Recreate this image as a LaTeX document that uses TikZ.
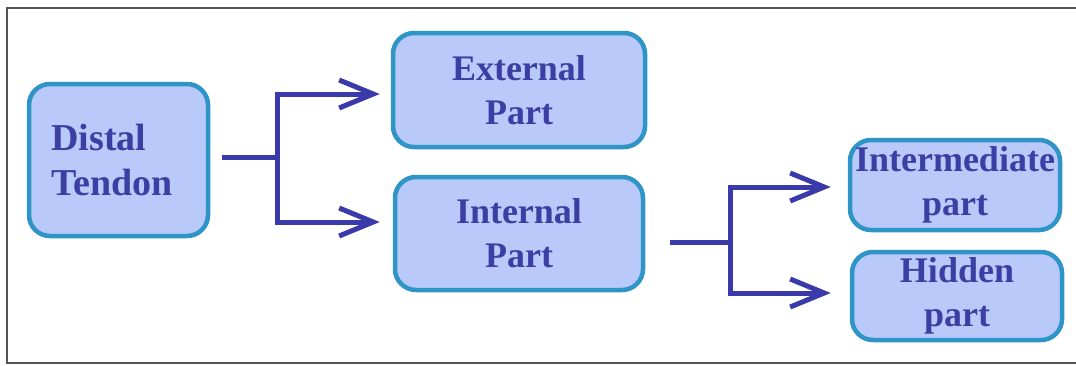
\documentclass[tikz,border=0pt]{standalone}
\usepackage{fontspec}
\setmainfont{Liberation Serif}
\usepackage{tikz}
\usetikzlibrary{arrows.meta}
\usepackage{xcolor}
\definecolor{boxfill}{HTML}{B9C9F9}
\definecolor{boxline}{HTML}{2E95C6}
\definecolor{inkblue}{HTML}{3B3FA3}
\definecolor{linkblue}{HTML}{3A3AAA}
\definecolor{framegray}{HTML}{555555}

\begin{document}
\begin{tikzpicture}[x=1pt, y=-1pt,
    part/.style={rectangle, draw=boxline, fill=boxfill, line width=4.5pt, rounded corners=21pt,
        text=inkblue, font=\fontsize{36}{44}\selectfont\bfseries, align=center, inner sep=0pt},
    link/.style={draw=linkblue, line width=5pt},
    arrow/.style={link, -{Straight Barb[length=34pt, width=28pt, line width=5pt]}}]
    \useasboundingbox (0,0) rectangle (1076,365);
    \fill[white] (0,0) rectangle (1076,365);
    \draw[framegray, line width=2pt] (1080,8) -- (7,8) -- (7,363) -- (1080,363);

    % Define nodes
    \node (tendon) [part, font=\fontsize{38}{45}\selectfont\bfseries, align=left, text width=134pt,
        minimum width=179pt, minimum height=152pt] at (118.5,160) {Distal\\Tendon};
    \node (external) [part, minimum width=252pt, minimum height=114pt] at (519,90) {External\\Part};
    \node (internal) [part, minimum width=248pt, minimum height=113pt] at (519,233.5) {Internal\\Part};
    \node (intermediate) [part, minimum width=210pt, minimum height=90pt] at (955,185) {Intermediate\\part};
    \node (hidden) [part, minimum width=210pt, minimum height=88pt] at (957,296) {Hidden\\part};
    \coordinate (fork1) at (277,157);
    \coordinate (fork2) at (730,242);

    % Draw edges
    \draw[link, shorten <=12pt] ([yshift=3pt]tendon.east) -- (fork1);
    \draw[arrow, shorten >=11pt] (fork1) |- ([yshift=-4pt]external.west);
    \draw[arrow, shorten >=13pt] (fork1) |- ([yshift=11.5pt]internal.west);
    \draw[link, shorten <=25pt] ([yshift=-8.5pt]internal.east) -- (fork2);
    \draw[arrow, shorten >=17pt] (fork2) |- ([yshift=-2pt]intermediate.west);
    \draw[arrow, shorten >=19pt] (fork2) |- ([yshift=3pt]hidden.west);
\end{tikzpicture}
\end{document}
